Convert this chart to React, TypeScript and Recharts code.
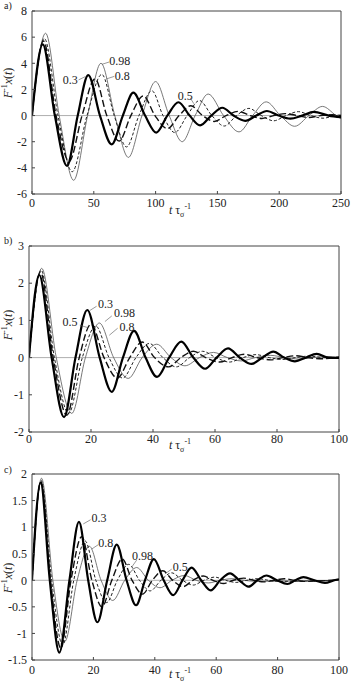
import React from 'react'
import { LineChart, Line, XAxis, YAxis, ReferenceLine, ReferenceDot } from 'recharts'

type Pt = [number, number]

// panel a) — t from 0 to 250
const a03: Pt[] = [[0, 0], [8.7, 5.45], [18.5, 0], [28.3, -3.85], [37, 0], [45.5, 3.1], [55, 0], [64.5, -2.2], [73.5, 0], [82, 1.75], [91.5, 0], [100.5, -1.3], [109.5, 0], [118.5, 1.02], [127.5, 0], [136, -0.75], [145, 0], [154, 0.6], [163, 0], [172.5, -0.4], [181.5, 0], [190, 0.35], [199.5, 0], [209, -0.23], [218.5, 0], [228, 0.28], [240, 0], [250, -0.12]]
const a05: Pt[] = [[0, 0], [9.3, 5.7], [19.5, 0], [30, -3.5], [40.5, 0], [51, 2.8], [60.5, 0], [70.5, -1.95], [80, 0], [90, 1.5], [99.5, 0], [109.5, -1.0], [119, 0], [128.5, 0.75], [138, 0], [147.5, -0.45], [157, 0], [167, 0.32], [176.5, 0], [186, -0.22], [195.5, 0], [205, 0.15], [214.5, 0], [224, -0.15], [233.5, 0], [243, 0.06], [250, 0]]
const a08: Pt[] = [[0, 0], [10, 5.9], [21, 0], [32.5, -4.3], [44.5, 0], [56.5, 3.15], [66.5, 0], [76.5, -2.4], [86.5, 0], [97, 1.9], [106, 0], [115.5, -1.3], [125.5, 0], [135.5, 1.15], [145.5, 0], [155.5, -0.8], [165.5, 0], [175.5, 0.55], [185.5, 0], [195.5, -0.4], [205.5, 0], [215.5, 0.3], [225.5, 0], [235.5, -0.2], [245.5, 0], [250, 0.05]]
const a098: Pt[] = [[0, 0], [11, 6.3], [22, 0], [33.7, -4.95], [45, 0], [55.8, 4.0], [67, 0], [78, -3.2], [89, 0], [100, 2.6], [111, 0], [121.5, -2.0], [132, 0], [142.5, 1.65], [155, 0], [167.5, -1.25], [178.5, 0], [189.5, 1.05], [201, 0], [212.5, -0.82], [224, 0], [235, 0.7], [246, 0], [250, -0.25]]

// panel b) — t from 0 to 100
const b03: Pt[] = [[0, 0], [3.3, 2.22], [7.3, 0], [11.3, -1.6], [15, 0], [18.8, 1.28], [22.8, 0], [26.7, -0.92], [30.3, 0], [33.9, 0.72], [37.6, 0], [41.3, -0.52], [45.2, 0], [49.1, 0.43], [53, 0], [56.8, -0.3], [60.5, 0], [64.2, 0.25], [68, 0], [71.8, -0.17], [75.3, 0], [78.8, 0.16], [82.3, 0], [85.8, -0.1], [89.3, 0], [92.8, 0.1], [96.5, 0], [100, -0.01]]
const b05: Pt[] = [[0, 0], [3.7, 2.3], [7.8, 0], [12.2, -1.55], [16.2, 0], [20, 0.9], [24.2, 0], [28.5, -0.55], [32.5, 0], [36.5, 0.42], [40.5, 0], [45, -0.25], [49, 0], [53, 0.17], [57, 0], [61.5, -0.12], [65.5, 0], [69.5, 0.09], [73.5, 0], [78, -0.06], [82, 0], [86, 0.05], [90, 0], [94.5, -0.03], [100, 0.02]]
const b08: Pt[] = [[0, 0], [3.9, 2.35], [8.2, 0], [12.8, -1.5], [17.2, 0], [21.5, 0.85], [25.8, 0], [30.2, -0.55], [34.5, 0], [38.8, 0.38], [43.2, 0], [47.5, -0.25], [51.8, 0], [56, 0.17], [60.3, 0], [64.6, -0.12], [69, 0], [73.2, 0.08], [77.5, 0], [81.8, -0.05], [86, 0], [90.3, 0.04], [94.7, 0], [100, -0.02]]
const b098: Pt[] = [[0, 0], [4.1, 2.4], [8.8, 0], [13.8, -1.5], [18.2, 0], [22.7, 0.93], [27.3, 0], [32, -0.56], [36.5, 0], [41.2, 0.36], [45.8, 0], [50.3, -0.22], [55, 0], [59.5, 0.14], [64, 0], [68.5, -0.09], [73, 0], [78, 0.06], [82.5, 0], [87, -0.04], [91.5, 0], [96, 0.03], [100, 0]]

// panel c) — t from 0 to 100
const c03: Pt[] = [[0, 0], [2.8, 1.84], [5.8, 0], [8.9, -1.36], [12.2, 0], [15.3, 1.1], [18.3, 0], [21.3, -0.79], [24.5, 0], [27.6, 0.67], [30.8, 0], [33.9, -0.47], [36.8, 0], [39.7, 0.4], [42.9, 0], [46, -0.28], [49, 0], [52, 0.24], [55.1, 0], [58.2, -0.19], [61.3, 0], [64.5, 0.13], [67.5, 0], [70.5, -0.12], [73.4, 0], [76.4, 0.09], [79.8, 0], [83.2, -0.07], [85.8, 0], [88.4, 0.06], [92, 0], [95.4, -0.05], [98.5, 0], [100, 0.02]]
const c05: Pt[] = [[0, 0], [2.9, 1.86], [6, 0], [9.4, -1.28], [12.7, 0], [16.2, 0.82], [19.5, 0], [22.8, -0.5], [26, 0], [29.4, 0.4], [32.6, 0], [36, -0.26], [39.2, 0], [42.6, 0.18], [45.8, 0], [49.2, -0.12], [52.4, 0], [55.8, 0.08], [59, 0], [62.4, -0.06], [65.6, 0], [69, 0.04], [72.2, 0], [75.6, -0.03], [79, 0], [82.2, 0.03], [85.5, 0], [88.8, -0.02], [100, 0.01]]
const c08: Pt[] = [[0, 0], [3, 1.88], [6.4, 0], [10, -1.22], [13.6, 0], [17.3, 0.74], [20.8, 0], [24.3, -0.42], [27.8, 0], [31.5, 0.3], [35, 0], [38.5, -0.2], [42, 0], [45.5, 0.14], [49, 0], [52.5, -0.09], [56, 0], [59.5, 0.06], [63, 0], [66.5, -0.04], [70, 0], [73.5, 0.03], [77, 0], [80.5, -0.02], [100, 0]]
const c098: Pt[] = [[0, 0], [3.1, 1.92], [6.8, 0], [10.7, -1.15], [14.7, 0], [18.7, 0.64], [22.5, 0], [26.3, -0.38], [30.2, 0], [34.1, 0.24], [37.9, 0], [41.7, -0.14], [45.6, 0], [49.6, 0.09], [53.5, 0], [57.4, -0.05], [61.3, 0], [65.2, 0.03], [69, 0], [73, -0.02], [100, 0]]

const xTicksA = [0, 50, 100, 150, 200, 250]
const yTicksA = [-6, -4, -2, 0, 2, 4, 6, 8]
const xTicksBC = [0, 20, 40, 60, 80, 100]
const yTicksB = [-2, -1, 0, 1, 2, 3]
const yTicksC = [-1.5, -1, -0.5, 0, 0.5, 1, 1.5, 2]

// curve labels: text position, then leader line start/end (data units)
interface Note { text: string; at: Pt; from: Pt; to: Pt }
const notesA: Note[] = [
    { text: '0.3', at: [31, 2.75], from: [37.7, 2.73], to: [43.1, 2.98] },
    { text: '0.98', at: [71, 4.23], from: [62.5, 4.1], to: [56.6, 3.92] },
    { text: '0.8', at: [73, 3.04], from: [66.6, 3.0], to: [60.1, 2.8] },
    { text: '0.5', at: [124, 1.55], from: [128, 1.35], to: [131, 0.9] },
]
const notesB: Note[] = [
    { text: '0.3', at: [24.7, 1.46], from: [21.8, 1.38], to: [19.7, 1.27] },
    { text: '0.98', at: [30.8, 1.2], from: [26.7, 1.12], to: [24.5, 0.97] },
    { text: '0.8', at: [31.6, 0.83], from: [28.6, 0.79], to: [25.9, 0.6] },
    { text: '0.5', at: [13.2, 0.96], from: [16.4, 0.87], to: [18.8, 0.81] },
]
const notesC: Note[] = [
    { text: '0.3', at: [21.8, 1.18], from: [19.1, 1.14], to: [16.7, 1.06] },
    { text: '0.8', at: [24, 0.71], from: [21.6, 0.67], to: [19.5, 0.59] },
    { text: '0.98', at: [36, 0.46], from: [34.1, 0.38], to: [32.5, 0.25] },
    { text: '0.5', at: [48.3, 0.25], from: [45.5, 0.21], to: [43.3, 0.12] },
]

const FRAME = '#444'
const TEXT = '#222'
const FONT = '"Liberation Serif", "DejaVu Serif", serif'

const LINE_STYLE: Record<string, { stroke: string; strokeWidth: number; strokeDasharray?: string }> = {
    '0.98': { stroke: '#555', strokeWidth: 0.8 },
    '0.8': { stroke: '#222', strokeWidth: 1, strokeDasharray: '3 2' },
    '0.5': { stroke: '#111', strokeWidth: 1.4, strokeDasharray: '7 3' },
    '0.3': { stroke: '#000', strokeWidth: 2.2 },
}

const TICK = { fontSize: 12, fill: TEXT, fontFamily: FONT }

const toRows = (pts: Pt[]) => pts.map(([t, v]) => ({ t, v }))

interface PanelProps {
    top: number
    height: number
    margin: { top: number; right: number; bottom: number; left: number }
    yWidth: number
    xHeight: number
    tickGap: number
    xDomain: [number, number]
    xTicks: number[]
    yDomain: [number, number]
    yTicks: number[]
    series: { key: string; pts: Pt[] }[]
    notes: Note[]
}

function Panel(p: PanelProps) {
    return (
        <div style={{ position: 'absolute', left: 0, top: p.top }}>
            <LineChart width={356} height={p.height} margin={p.margin}>
                <XAxis
                    type="number" dataKey="t" domain={p.xDomain} ticks={p.xTicks}
                    allowDataOverflow interval={0} height={p.xHeight}
                    tickSize={-3} tickMargin={p.tickGap + 3}
                    axisLine={{ stroke: FRAME }} tickLine={{ stroke: FRAME }}
                    tick={TICK}
                />
                <YAxis
                    type="number" domain={p.yDomain} ticks={p.yTicks}
                    allowDataOverflow interval={0} width={p.yWidth}
                    tickSize={-3} tickMargin={8}
                    axisLine={{ stroke: FRAME }} tickLine={{ stroke: FRAME }}
                    tick={TICK}
                />
                {/* box frame + zero line */}
                <ReferenceLine y={p.yDomain[1]} stroke={FRAME} />
                <ReferenceLine x={p.xDomain[1]} stroke={FRAME} />
                <ReferenceLine y={0} stroke="#999" strokeWidth={0.8} />
                {p.series.map(s => (
                    <Line
                        key={s.key}
                        data={toRows(s.pts)}
                        dataKey="v"
                        type="monotone"
                        dot={false}
                        activeDot={false}
                        isAnimationActive={false}
                        {...LINE_STYLE[s.key]}
                    />
                ))}
                {p.notes.map(n => (
                    <ReferenceLine
                        key={'l' + n.text}
                        segment={[{ x: n.from[0], y: n.from[1] }, { x: n.to[0], y: n.to[1] }]}
                        stroke="#555" strokeWidth={0.6}
                    />
                ))}
                {p.notes.map(n => (
                    <ReferenceDot
                        key={'d' + n.text}
                        x={n.at[0]} y={n.at[1]} r={1}
                        fill="none" stroke="none"
                        label={{ value: n.text, position: 'center', ...TICK }}
                    />
                ))}
            </LineChart>
        </div>
    )
}

function YTitle({ x, y }: { x: number; y: number }) {
    return (
        <div style={{
            position: 'absolute', left: x, top: y, whiteSpace: 'nowrap', fontSize: 12, color: TEXT,
            transform: 'translate(-50%, -50%) rotate(-90deg)',
        }}>
            <i>F</i><span style={{ fontSize: 8, verticalAlign: 5 }}>-1</span><i>x</i>(<i>t</i>)
        </div>
    )
}

function XTitle({ x, y }: { x: number; y: number }) {
    return (
        <div style={{
            position: 'absolute', left: x, top: y, whiteSpace: 'nowrap', fontSize: 12, color: TEXT,
            transform: 'translate(-50%, -50%)', lineHeight: '14px',
        }}>
            <i>t</i> τ<span style={{ fontSize: 8, verticalAlign: -3 }}>σ</span>
            <span style={{ fontSize: 8, verticalAlign: 5 }}>-1</span>
        </div>
    )
}

function Tag({ x, y, text }: { x: number; y: number; text: string }) {
    return (
        <div style={{ position: 'absolute', left: x, top: y, fontSize: 10, color: TEXT, lineHeight: '10px' }}>
            {text}
        </div>
    )
}

export default function App() {
    return (
        <div style={{
            position: 'absolute', left: 0, top: 0, width: 356, height: 683,
            background: '#fff', fontFamily: FONT, overflow: 'hidden',
        }}>
            <Panel
                top={0} height={225}
                margin={{ top: 11, right: 15, bottom: 11, left: 0 }}
                yWidth={32} xHeight={20} tickGap={4}
                xDomain={[0, 250]} xTicks={xTicksA}
                yDomain={[-6, 8]} yTicks={yTicksA}
                series={[{ key: '0.98', pts: a098 }, { key: '0.8', pts: a08 }, { key: '0.5', pts: a05 }, { key: '0.3', pts: a03 }]}
                notes={notesA}
            />
            <Panel
                top={225} height={225}
                margin={{ top: 21, right: 17, bottom: 8, left: 0 }}
                yWidth={29} xHeight={10} tickGap={2}
                xDomain={[0, 100]} xTicks={xTicksBC}
                yDomain={[-2, 3]} yTicks={yTicksB}
                series={[{ key: '0.98', pts: b098 }, { key: '0.8', pts: b08 }, { key: '0.5', pts: b05 }, { key: '0.3', pts: b03 }]}
                notes={notesB}
            />
            <Panel
                top={450} height={233}
                margin={{ top: 24, right: 17, bottom: 13, left: 0 }}
                yWidth={32} xHeight={10} tickGap={5}
                xDomain={[0, 100]} xTicks={xTicksBC}
                yDomain={[-1.5, 2]} yTicks={yTicksC}
                series={[{ key: '0.98', pts: c098 }, { key: '0.8', pts: c08 }, { key: '0.5', pts: c05 }, { key: '0.3', pts: c03 }]}
                notes={notesC}
            />
            <Tag x={4} y={1} text="a)" />
            <Tag x={4} y={236} text="b)" />
            <Tag x={4} y={465} text="c)" />
            <YTitle x={8} y={83} />
            <YTitle x={8} y={325} />
            <YTitle x={8} y={578} />
            <XTitle x={180} y={211} />
            <XTitle x={180} y={446} />
            <XTitle x={180} y={675} />
        </div>
    )
}
